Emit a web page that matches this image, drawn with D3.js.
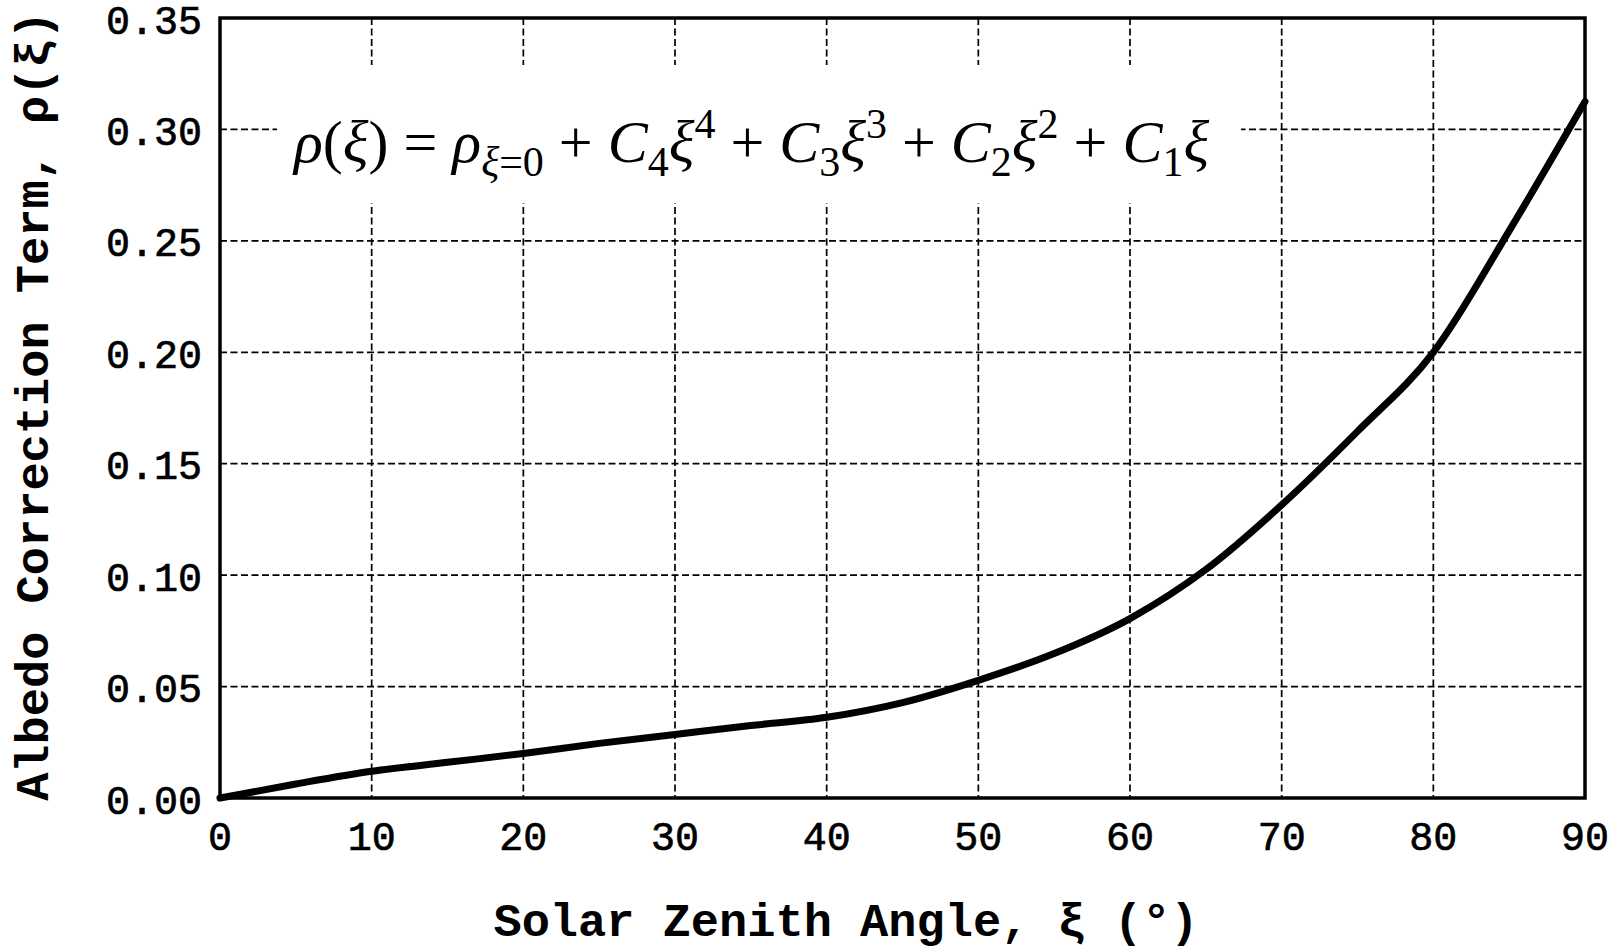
<!DOCTYPE html>
<html>
<head>
<meta charset="utf-8">
<style>
body { margin: 0; background: #fff; }
.tick-label { font-family: "Liberation Mono", monospace; font-size: 40px; fill: #000; stroke: #000; stroke-width: 0.7px; }
.axis-title { font-family: "Liberation Mono", monospace; font-size: 47px; font-weight: bold; fill: #000; }
.formula { font-family: "Liberation Serif", serif; font-size: 60px; fill: #000; }
</style>
</head>
<body>
<script src="https://cdn.jsdelivr.net/npm/d3@7/dist/d3.min.js"></script>
<script>
    // curve, every 5 degrees
    const angles = [0, 5, 10, 15, 20, 25, 30, 35, 40, 45, 50, 55, 60, 65, 70, 75, 80, 85, 90];
    const albedo = [0.000, 0.0063, 0.012, 0.016, 0.020, 0.0245, 0.0285, 0.0325, 0.0362, 0.0428, 0.0528, 0.0648, 0.0805, 0.1025, 0.1315, 0.1645, 0.2, 0.2545, 0.3125];
    const xTicks = [0, 10, 20, 30, 40, 50, 60, 70, 80, 90];
    const yTicks = [0.00, 0.05, 0.10, 0.15, 0.20, 0.25, 0.30, 0.35];

    const width = 1618, height = 951;
    const plot = {left: 220, right: 1585, top: 18, bottom: 798};

    const svg = d3.select("body").append("svg")
        .attr("width", width)
        .attr("height", height);

    const x = d3.scaleLinear().domain([0, 90]).range([plot.left, plot.right]);
    const y = d3.scaleLinear().domain([0, 0.35]).range([plot.bottom, plot.top]);

    // grid
    const grid = svg.append("g")
        .attr("stroke", "#000")
        .attr("stroke-width", 1.7)
        .attr("stroke-dasharray", "7,3.5");

    grid.selectAll(".vgrid").data(xTicks.slice(1, -1)).enter()
        .append("line")
        .attr("class", "vgrid")
        .attr("x1", d => x(d)).attr("x2", d => x(d))
        .attr("y1", plot.top).attr("y2", plot.bottom);

    grid.selectAll(".hgrid").data(yTicks.slice(1, -1)).enter()
        .append("line")
        .attr("class", "hgrid")
        .attr("x1", plot.left).attr("x2", plot.right)
        .attr("y1", d => y(d)).attr("y2", d => y(d));

    // white box behind the formula
    svg.append("rect")
        .attr("x", 277).attr("y", 65)
        .attr("width", 1241 - 277).attr("height", 203 - 65)
        .attr("fill", "#fff");

    // formula
    const parts = [
        {t: "ρ", i: 1}, {t: "(", i: 0}, {t: "ξ", i: 1}, {t: ") = ", i: 0},
        {t: "ρ", i: 1}, {t: "ξ", i: 1, s: "sub"}, {t: "=0", i: 0, s: "sub"},
        {t: " + ", i: 0}, {t: "C", i: 1}, {t: "4", i: 0, s: "sub"}, {t: "ξ", i: 1}, {t: "4", i: 0, s: "sup"},
        {t: " + ", i: 0}, {t: "C", i: 1}, {t: "3", i: 0, s: "sub"}, {t: "ξ", i: 1}, {t: "3", i: 0, s: "sup"},
        {t: " + ", i: 0}, {t: "C", i: 1}, {t: "2", i: 0, s: "sub"}, {t: "ξ", i: 1}, {t: "2", i: 0, s: "sup"},
        {t: " + ", i: 0}, {t: "C", i: 1}, {t: "1", i: 0, s: "sub"}, {t: "ξ", i: 1}
    ];
    const formula = svg.append("text")
        .attr("class", "formula")
        .attr("x", 294).attr("y", 162)
        .attr("xml:space", "preserve");
    parts.forEach(p => {
        const off = p.s === "sub" ? 14 : p.s === "sup" ? -24 : 0;
        formula.append("tspan")
            .attr("y", 162 + off)
            .attr("font-style", p.i ? "italic" : "normal")
            .attr("font-size", p.s ? 42 : 60)
            .text(p.t);
    });

    // curve
    const line = d3.line()
        .curve(d3.curveMonotoneX)
        .x((d, i) => x(angles[i]))
        .y(d => y(d));

    svg.append("path")
        .datum(albedo)
        .attr("fill", "none")
        .attr("stroke", "#000")
        .attr("stroke-width", 7)
        .attr("stroke-linejoin", "round")
        .attr("stroke-linecap", "round")
        .attr("d", line);

    // frame
    svg.append("rect")
        .attr("x", plot.left).attr("y", plot.top)
        .attr("width", plot.right - plot.left)
        .attr("height", plot.bottom - plot.top)
        .attr("fill", "none")
        .attr("stroke", "#000")
        .attr("stroke-width", 3.5);

    // tick labels
    svg.selectAll(".ylab").data(yTicks).enter()
        .append("text")
        .attr("class", "tick-label")
        .attr("x", 202)
        .attr("y", d => y(d) + 5)
        .attr("text-anchor", "end")
        .attr("dominant-baseline", "central")
        .text(d => d.toFixed(2));

    svg.selectAll(".xlab").data(xTicks).enter()
        .append("text")
        .attr("class", "tick-label")
        .attr("x", d => x(d))
        .attr("y", 850)
        .attr("text-anchor", "middle")
        .text(d => d);

    // axis titles
    svg.append("text")
        .attr("class", "axis-title")
        .attr("x", 846).attr("y", 936)
        .attr("text-anchor", "middle")
        .text("Solar Zenith Angle, ξ (°)");

    svg.append("text")
        .attr("class", "axis-title")
        .attr("transform", "translate(48,406) rotate(-90)")
        .attr("text-anchor", "middle")
        .text("Albedo Correction Term, ρ(ξ)");
</script>
</body>
</html>
